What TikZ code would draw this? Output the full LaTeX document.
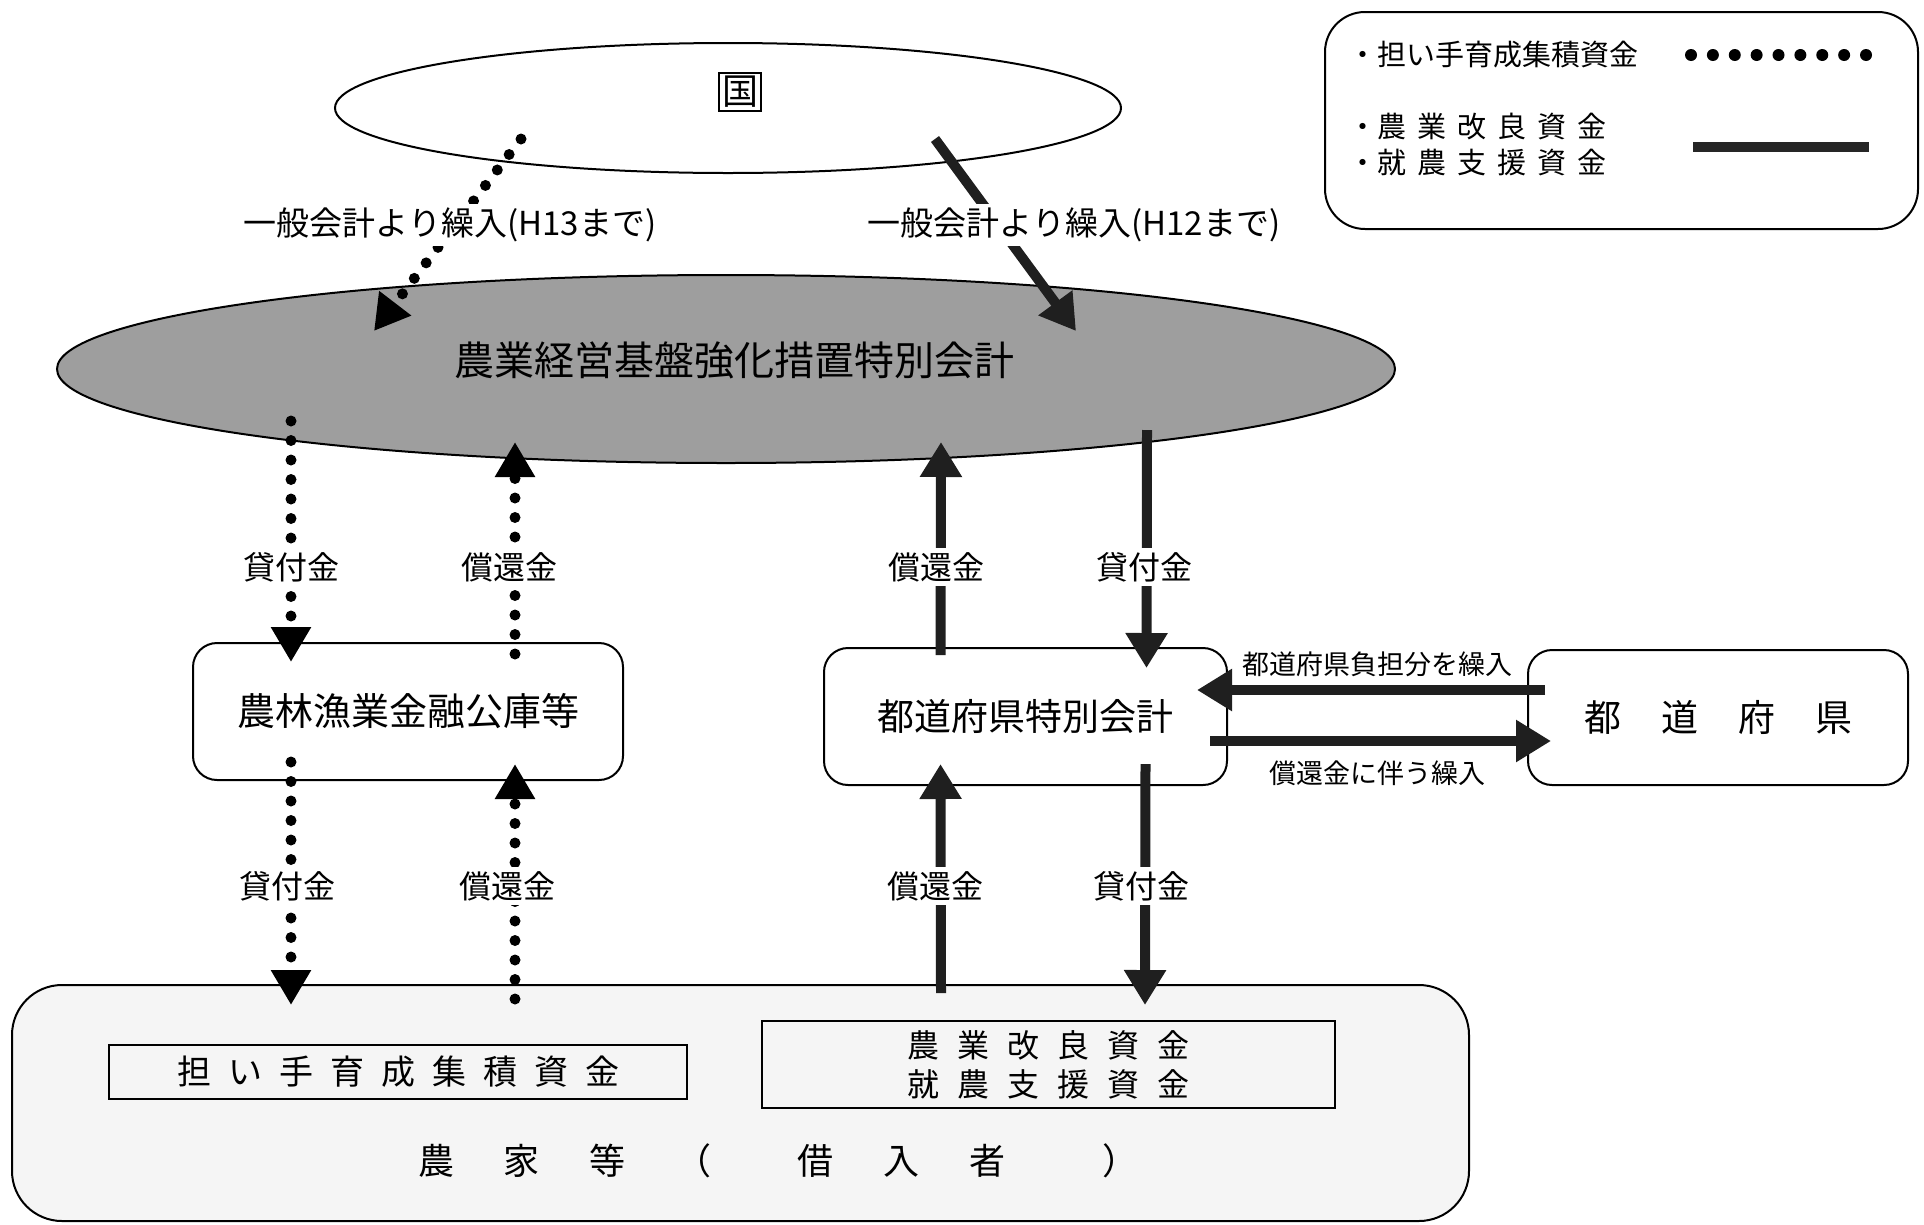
\documentclass[tikz,border=0pt]{standalone}
\usepackage{fontspec}
\setmainfont{Noto Sans CJK JP}
\usetikzlibrary{arrows.meta,shapes.geometric}
\newcommand\fs[1]{\fontsize{#1}{#1}\selectfont}
\newcommand\gp[1]{\hspace{#1pt}}
\begin{document}
\begin{tikzpicture}[x=1pt,y=-1pt,
  box/.style={draw, line width=2pt, rounded corners=24pt, inner sep=0pt},
  dotarr/.style={line width=11pt, dash pattern=on 0pt off 19.5pt, line cap=round, -{Triangle[length=35pt,width=38pt]}},
  solarr/.style={line width=10pt, black!88, -{Triangle[length=35pt,width=40pt]}},
  lbl/.style={fill=white, inner sep=4pt, font=\fs{32}},
  hlbl/.style={inner sep=2pt, font=\fs{27}},
]
\useasboundingbox (0,0) rectangle (1924,1224);
% ellipses
\node[ellipse, draw, line width=2pt, minimum width=786pt, minimum height=130pt, inner sep=0pt] (kuni) at (728,108) {};
\node[draw, line width=2pt, inner sep=3pt, font=\fs{36}] (kunitext) at (740,92) {国};
\node[ellipse, draw, line width=2pt, fill=black!38, minimum width=1338pt, minimum height=188pt, inner sep=0pt] (toku) at (726,369) {};
\node[font=\fs{40}] (tokutitle) at (734,360) {農業経営基盤強化措置特別会計};
% boxes
\node[box, minimum width=430pt, minimum height=137pt, font=\fs{38}] (kouko) at (408,711.5) {農林漁業金融公庫等};
\node[box, minimum width=403pt, minimum height=137pt, font=\fs{37}] (pref) at (1025.5,716.5) {都道府県特別会計};
\node[box, minimum width=380pt, minimum height=135pt, font=\fs{37}] (todo) at (1718,717.5) {都\gp{40}道\gp{40}府\gp{40}県};
\node[box, rounded corners=50pt, fill=black!4, minimum width=1457pt, minimum height=236pt] (noka) at (740.5,1103) {};
\node[draw, line width=2pt, minimum width=578pt, minimum height=54pt, inner sep=0pt, font=\fs{34}] (ninaite) at (398,1072) {担\gp{17}い\gp{17}手\gp{17}育\gp{17}成\gp{17}集\gp{17}積\gp{17}資\gp{17}金};
\node[draw, line width=2pt, minimum width=573pt, minimum height=87pt, inner sep=0pt, align=center, font=\fontsize{32}{39}\selectfont] (kairyo) at (1048.5,1064.5) {農\gp{18}業\gp{18}改\gp{18}良\gp{18}資\gp{18}金\\就\gp{18}農\gp{18}支\gp{18}援\gp{18}資\gp{18}金};
\node[font=\fs{36}] (nokatext) at (778,1161) {農\gp{50}家\gp{50}等\gp{50}（\gp{86}借\gp{50}入\gp{50}者\gp{96}）};
% legend
\node[box, rounded corners=40pt, minimum width=593pt, minimum height=217pt] (legend) at (1621.5,120.5) {};
\node[anchor=west, font=\fs{29}] (leg1) at (1345,55) {・担い手育成集積資金};
\node[anchor=west, font=\fs{29}] (leg2) at (1345,127) {・農\gp{11}業\gp{11}改\gp{11}良\gp{11}資\gp{11}金};
\node[anchor=west, font=\fs{29}] (leg3) at (1345,163) {・就\gp{11}農\gp{11}支\gp{11}援\gp{11}資\gp{11}金};
\coordinate (ld1) at (1691,55);
\coordinate (ld2) at (1866,55);
\draw[line width=12pt, dash pattern=on 0pt off 21.875pt, line cap=round] (ld1) -- (ld2);
\coordinate (ll1) at (1693,147);
\coordinate (ll2) at (1869,147);
\draw[line width=10pt, black!85] (ll1) -- (ll2);
% top arrows
\draw[dotarr] ([shift={(-207,31)}]kuni.center) -- ([shift={(-352,-38)}]toku.center);
\draw[solarr] ([shift={(207,31)}]kuni.center) -- ([shift={(350,-38)}]toku.center);
% upper verticals
\draw[dotarr] ([shift={(-435,52)}]toku.center) -- ([shift={(-117,20)}]kouko.north);
\draw[dotarr] ([shift={(107,12)}]kouko.north) -- ([shift={(-211,73)}]toku.center);
\draw[solarr] ([shift={(-85,8)}]pref.north) -- ([shift={(215,73)}]toku.center);
\draw[solarr] ([shift={(421,61)}]toku.center) -- ([shift={(121,21)}]pref.north);
% lower verticals
\draw[dotarr] ([shift={(-117,-19)}]kouko.south) -- ([shift={(-449.5,21)}]noka.north);
\draw[dotarr] ([shift={(-225.5,15)}]noka.north) -- ([shift={(107,-17)}]kouko.south);
\draw[solarr] ([shift={(200.5,9)}]noka.north) -- ([shift={(-85,-22)}]pref.south);
\draw[solarr] ([shift={(120,-22)}]pref.south) -- ([shift={(404.5,21)}]noka.north);
% horizontals
\draw[solarr] ([shift={(18,-27.5)}]todo.west) -- ([shift={(-31,-26.5)}]pref.east);
\draw[solarr] ([shift={(-18,24.5)}]pref.east) -- ([shift={(24,23.5)}]todo.west);
% labels
\node[lbl, font=\fs{33}] (lab1) at (450,225) {一般会計より繰入(H13まで)};
\node[lbl, font=\fs{33}] (lab2) at (1074,225) {一般会計より繰入(H12まで)};
\node[lbl] (u1) at (291,567) {貸付金};
\node[lbl] (u2) at (509,567) {償還金};
\node[lbl] (u3) at (936,567) {償還金};
\node[lbl] (u4) at (1144,567) {貸付金};
\node[lbl] (d1) at (287,886) {貸付金};
\node[lbl] (d2) at (507,886) {償還金};
\node[lbl] (d3) at (935,886) {償還金};
\node[lbl] (d4) at (1141,886) {貸付金};
\node[hlbl] (h1) at (1377,664) {都道府県負担分を繰入};
\node[hlbl] (h2) at (1377,773) {償還金に伴う繰入};
\end{tikzpicture}
\end{document}
